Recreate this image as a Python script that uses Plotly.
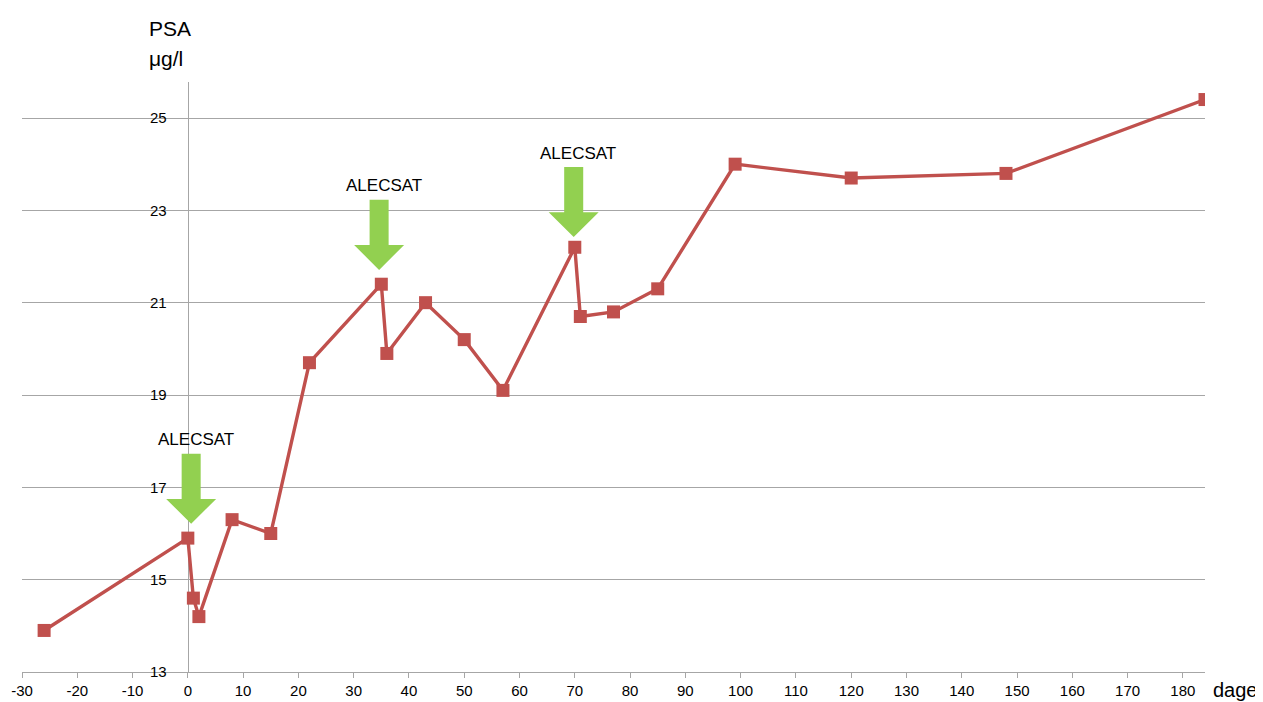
import plotly.graph_objects as go

days = [-26, 0, 1, 2, 8, 15, 22, 35, 36, 43, 50, 57, 70, 71, 77, 85, 99, 120, 148, 184]
psa = [13.9, 15.9, 14.6, 14.2, 16.3, 16.0, 19.7, 21.4, 19.9, 21.0, 20.2, 19.1, 22.2, 20.7, 20.8, 21.3, 24.0, 23.7, 23.8, 25.4]

arrow_days = [0.6, 34.6, 69.8]
arrow_tips = [16.21, 21.71, 22.42]
arrow_label = "ALECSAT"

x_ticks = list(range(-30, 181, 10))
x_tick_labels = [str(v) for v in x_ticks]
y_ticks = [13, 15, 17, 19, 21, 23, 25]
y_tick_labels = [str(v) for v in y_ticks]

RED = "#C0504D"
GREEN = "#92D050"
GRID = "#A6A6A6"
FONT = "Liberation Sans"

fig = go.Figure()
fig.add_trace(go.Scatter(
    x=days, y=psa, mode="lines+markers",
    line=dict(color=RED, width=3.4),
    marker=dict(symbol="square", size=13, color=RED),
    showlegend=False, hoverinfo="x+y",
))

shapes = []
annotations = []
shaft_half = 1.72
head_half = 4.52
head_h = 0.54
total_h = 1.52
for ax, tip in zip(arrow_days, arrow_tips):
    top = tip + total_h
    neck = tip + head_h
    path = (f"M {ax - shaft_half} {top} L {ax + shaft_half} {top} L {ax + shaft_half} {neck} "
            f"L {ax + head_half} {neck} L {ax} {tip} L {ax - head_half} {neck} "
            f"L {ax - shaft_half} {neck} Z")
    shapes.append(dict(type="path", path=path, xref="x", yref="y",
                       fillcolor=GREEN, line=dict(width=0), layer="above"))
    annotations.append(dict(x=ax + 0.8, y=top + 0.05, xref="x", yref="y", text=arrow_label,
                            showarrow=False, yanchor="bottom", xanchor="center",
                            font=dict(size=17, color="#000", family=FONT)))

annotations.append(dict(x=0.1057, y=1.0, xref="paper", yref="paper", yshift=54,
                        text="PSA", showarrow=False, xanchor="left", yanchor="middle",
                        font=dict(size=21, color="#000", family=FONT)))
annotations.append(dict(x=0.1057, y=1.0, xref="paper", yref="paper", yshift=24,
                        text="μg/l", showarrow=False, xanchor="left", yanchor="middle",
                        font=dict(size=21, color="#000", family=FONT)))
annotations.append(dict(x=1.0, y=0, xref="paper", yref="paper", xshift=6, yshift=-18,
                        text="dage", showarrow=False, xanchor="left", yanchor="middle",
                        font=dict(size=20, color="#000", family=FONT)))

fig.update_layout(
    width=1255, height=694,
    margin=dict(l=14, r=58, t=74, b=30, autoexpand=False),
    paper_bgcolor="white", plot_bgcolor="white",
    font=dict(family=FONT, size=15, color="#000"),
    shapes=shapes, annotations=annotations,
    xaxis=dict(range=[-30, 184], tickvals=x_ticks, ticktext=x_tick_labels,
               showgrid=False, zeroline=False, automargin=False,
               showline=True, linecolor=GRID, linewidth=1.3, ticks="outside",
               ticklen=5, tickcolor=GRID, tickfont=dict(size=15), layer="below traces"),
    yaxis=dict(range=[13, 25.78], tickvals=y_ticks, ticktext=y_tick_labels,
               showgrid=True, gridcolor=GRID, automargin=False,
               gridwidth=1.2, zeroline=False, showline=True, linecolor=GRID, linewidth=1.3,
               anchor="free", position=(30 / 214), ticks="", ticklabelstandoff=18,
               tickfont=dict(size=15), layer="below traces"),
)

fig.write_html("out.html")
